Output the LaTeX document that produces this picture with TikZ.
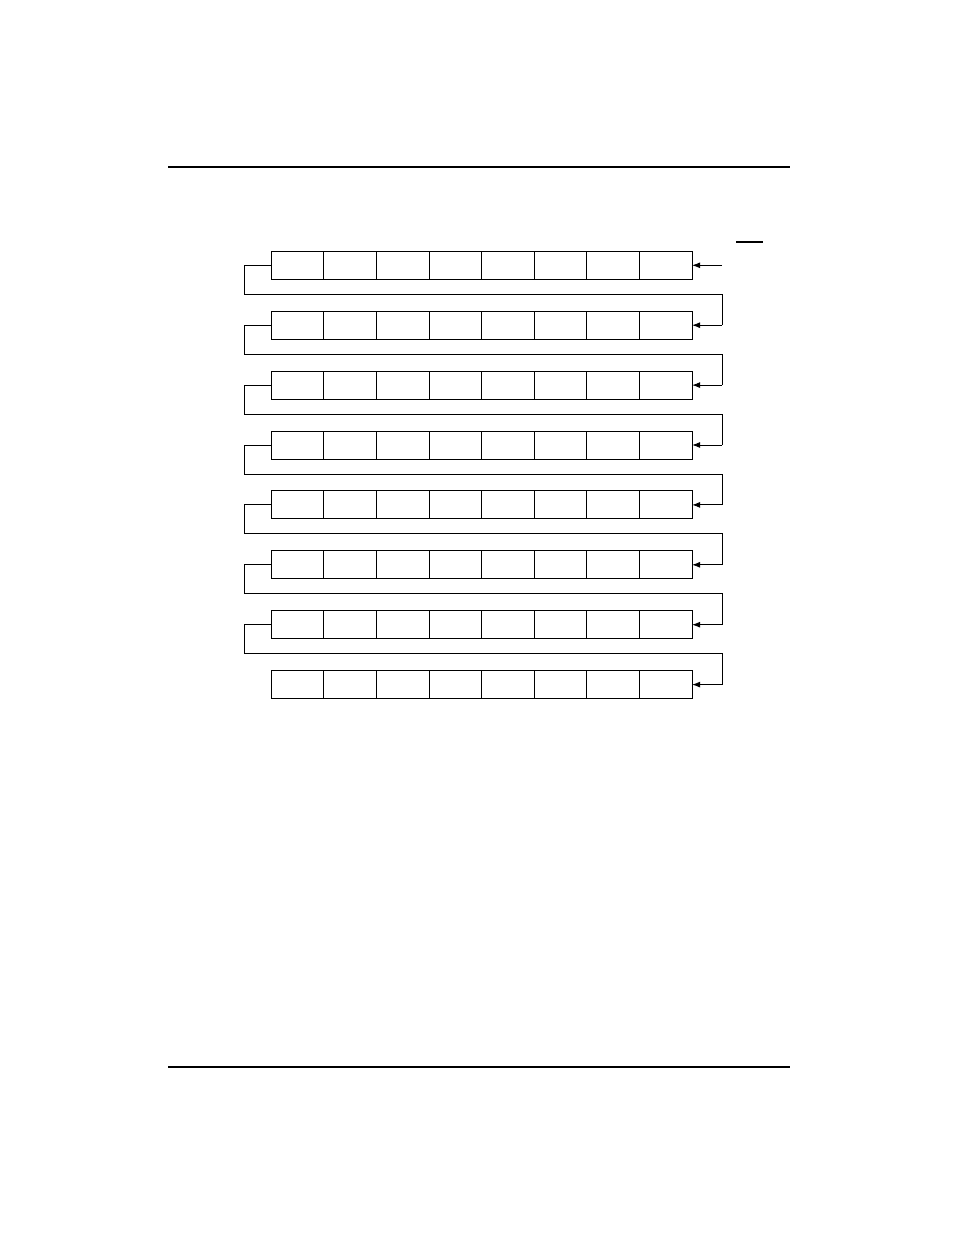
\documentclass[tikz,border=0pt]{standalone}
\usetikzlibrary{arrows.meta,calc}
\begin{document}
\begin{tikzpicture}[x=0.5pt,y=-0.5pt,
  cell/.style={draw,line width=0.5pt,minimum width=26.3pt,minimum height=14pt,inner sep=0pt,outer sep=0pt,anchor=north west},
  rule/.style={line width=0.55pt},
  link/.style={line width=0.5pt},
  feed/.style={line width=0.45pt,-{Latex[length=4pt,width=3pt]}}]
\useasboundingbox (0,0) rectangle (954,1235);
\draw[rule] (168,167) -- (790,167);
\draw[rule] (168,1067) -- (790,1067);
\draw[rule] (736,242) -- (763,242);
\foreach \r in {1,...,8}{
  \foreach \c in {1,...,8}{
    \node[cell] (r\r c\c) at ({271.3+52.6*(\c-1)},{251.3+59.9*(\r-1)}) {};
  }
}
\coordinate (in) at (722,265.3);
\draw[feed] (in) -- (r1c8.east);
\foreach \r [evaluate=\r as \n using int(\r+1)] in {1,...,7}{
  \coordinate (L\r) at ($(r\r c1.south west)+(-27,15)$);
  \coordinate (R\r) at ($(r\r c8.south east)+(30,15)$);
  \coordinate (E\r) at ($(r\n c8.east)+(30,0)$);
  \draw[link] (r\r c1.west) -| (L\r) -- (R\r) -- (E\r);
  \draw[feed] (E\r) -- (r\n c8.east);
}
\end{tikzpicture}
\end{document}
